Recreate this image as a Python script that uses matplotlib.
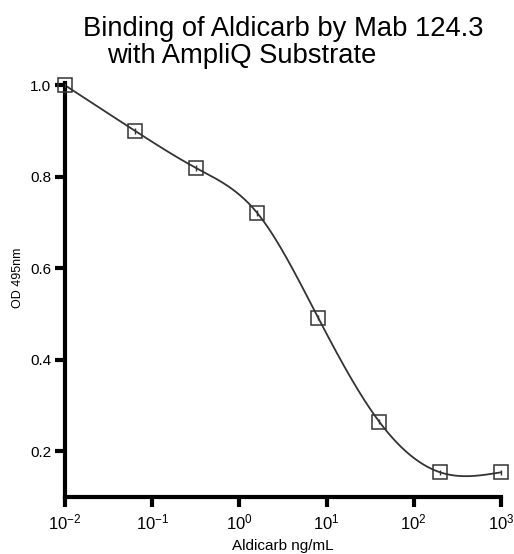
import numpy as np
import matplotlib
matplotlib.use("Agg")
import matplotlib.pyplot as plt
from matplotlib.ticker import FixedLocator, NullLocator

# ---- data ----
conc = [0.01, 0.064, 0.32, 1.6, 8.0, 40.0, 200.0, 1000.0]      # Aldicarb ng/mL
od = [1.000, 0.900, 0.819, 0.721, 0.492, 0.265, 0.154, 0.154]   # OD 495nm
od_err = [0.006, 0.006, 0.006, 0.006, 0.006, 0.006, 0.006, 0.006]
yticks = [0.2, 0.4, 0.6, 0.8, 1.0]
xticks = [1e-2, 1e-1, 1e0, 1e1, 1e2, 1e3]
xticklabels = [r"$10^{-2}$", r"$10^{-1}$", r"$10^{0}$", r"$10^{1}$", r"$10^{2}$", r"$10^{3}$"]
title1 = "Binding of Aldicarb by Mab 124.3"
title2 = "with AmpliQ Substrate"
xlabel = "Aldicarb ng/mL"
ylabel = "OD 495nm"

# ---- natural cubic spline through the data (in log10 concentration): the curve ----
lx = np.log10(conc)
yv = np.array(od)
n = len(lx)
h = np.diff(lx)
Amat = np.zeros((n, n))
rhs = np.zeros(n)
Amat[0, 0] = Amat[-1, -1] = 1.0
for i in range(1, n - 1):
    Amat[i, i - 1] = h[i - 1]
    Amat[i, i] = 2 * (h[i - 1] + h[i])
    Amat[i, i + 1] = h[i]
    rhs[i] = 6 * ((yv[i + 1] - yv[i]) / h[i] - (yv[i] - yv[i - 1]) / h[i - 1])
M = np.linalg.solve(Amat, rhs)
lxf = np.linspace(lx[0], lx[-1], 500)
j = np.clip(np.searchsorted(lx, lxf) - 1, 0, n - 2)
hj = h[j]
a = lx[j + 1] - lxf
b = lxf - lx[j]
yf = (M[j] * a ** 3 + M[j + 1] * b ** 3) / (6 * hj) \
    + (yv[j] / hj - M[j] * hj / 6) * a + (yv[j + 1] / hj - M[j + 1] * hj / 6) * b
xf = 10 ** lxf

plt.rcParams['font.family'] = ['Liberation Sans', 'DejaVu Sans']
plt.rcParams['mathtext.fontset'] = 'custom'
plt.rcParams['mathtext.rm'] = 'Liberation Sans'
plt.rcParams['mathtext.it'] = 'Liberation Sans'

fig = plt.figure(figsize=(5.14, 5.54), dpi=100)
ax = fig.add_axes([65 / 514, 57 / 554, 436 / 514, 414 / 554])

ax.plot(xf, yf, color="#333333", lw=1.3, zorder=2)
ax.errorbar(conc, od, yerr=od_err, fmt='none', ecolor="#333333", elinewidth=1.0,
            capsize=0, zorder=3, clip_on=False)
ax.plot(conc, od, linestyle='none', marker='s', markersize=9.5, markerfacecolor='none',
        markeredgecolor="#333333", markeredgewidth=1.1, zorder=4, clip_on=False)

ax.set_xscale('log')
ax.set_xlim(0.01, 1000)
ax.set_ylim(0.1, 1.005)
ax.xaxis.set_major_locator(FixedLocator(xticks))
ax.xaxis.set_minor_locator(NullLocator())
ax.set_xticks(xticks)
ax.set_xticklabels(xticklabels)
ax.set_yticks(yticks)
ax.set_yticklabels([f"{v:.1f}" for v in yticks])

for s in ['top', 'right']:
    ax.spines[s].set_visible(False)
for s in ['left', 'bottom']:
    ax.spines[s].set_linewidth(3)
ax.tick_params(axis='y', direction='out', length=7, width=3, labelsize=11, pad=3)
ax.tick_params(axis='x', direction='out', length=7, width=3, labelsize=12, pad=4)

ax.set_xlabel(xlabel, fontsize=11)
ax.xaxis.set_label_coords(0.5, -0.102)
ax.set_ylabel(ylabel, fontsize=9)
ax.yaxis.set_label_coords(-0.094, 0.53)

fig.text(283 / 514, 1 - 36 / 554, title1, ha='center', va='baseline', fontsize=19.7)
fig.text(107 / 514, 1 - 63 / 554, title2, ha='left', va='baseline', fontsize=19.7)

fig.savefig("out.png", dpi=100)
